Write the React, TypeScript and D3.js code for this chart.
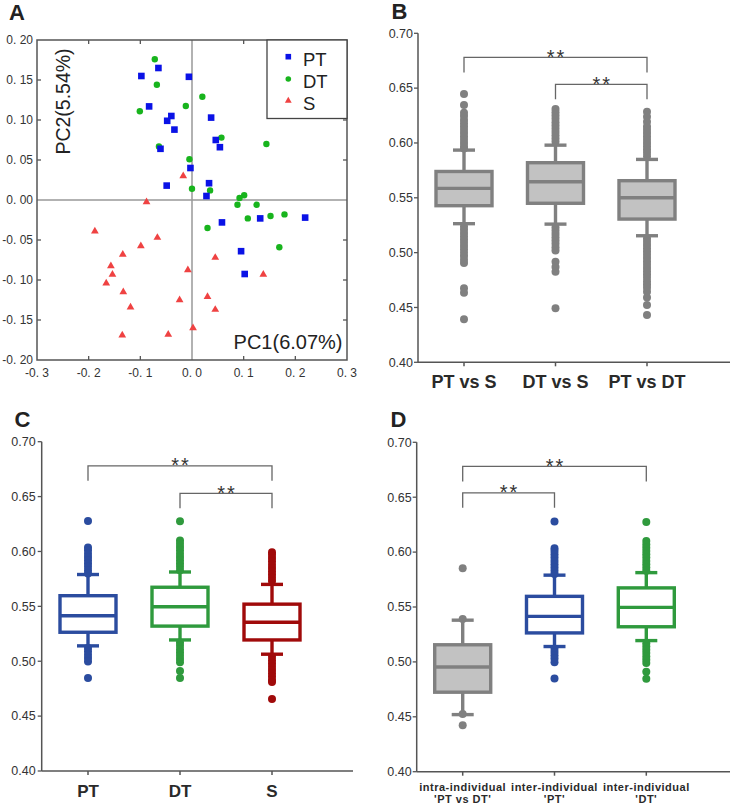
import React from "react";
import * as d3 from "d3";

const F = "'Liberation Sans', Arial, Helvetica, sans-serif";

// ---------- Panel A: PCA ----------
const pcaPT: [number, number][] = [
  [-0.098, 0.155], [-0.065, 0.165], [-0.006, 0.154], [-0.083, 0.117], [-0.040, 0.105],
  [-0.048, 0.099], [-0.034, 0.088], [0.037, 0.103], [0.046, 0.075], [0.054, 0.066],
  [-0.061, 0.064], [-0.003, 0.040], [0.033, 0.021], [-0.049, 0.018], [0.028, 0.005],
  [0.058, -0.028], [0.132, -0.023], [0.219, -0.022], [0.095, -0.064], [0.102, -0.0925],
];
const pcaDT: [number, number][] = [
  [-0.072, 0.176], [-0.068, 0.144], [-0.101, 0.111], [-0.012, 0.1175], [0.020, 0.129],
  [0.057, 0.078], [0.144, 0.070], [-0.064, 0.067], [-0.005, 0.051], [0.0, 0.014],
  [0.035, 0.012], [0.101, 0.006], [0.092, 0.0025], [0.088, -0.006], [0.125, -0.006],
  [0.108, -0.023], [0.152, -0.020], [0.179, -0.018], [0.030, -0.035], [0.169, -0.059],
];
const pcaS: [number, number][] = [
  [-0.017, 0.030], [-0.088, -0.0025], [-0.188, -0.039], [-0.067, -0.047], [-0.099, -0.0575],
  [-0.134, -0.068], [-0.157, -0.0825], [-0.154, -0.093], [-0.166, -0.104], [-0.133, -0.115],
  [-0.119, -0.134], [-0.135, -0.169], [-0.046, -0.168], [-0.024, -0.125], [-0.008, -0.0875],
  [0.002, -0.160], [0.030, -0.121], [0.045, -0.072], [0.045, -0.137], [0.138, -0.093],
];
const pcaXTicks = [-0.3, -0.2, -0.1, 0.0, 0.1, 0.2, 0.3];
const pcaXTickLabels = ["-0. 3", "-0. 2", "-0. 1", "0. 0", "0. 1", "0. 2", "0. 3"];
const pcaYTicks = [0.2, 0.15, 0.1, 0.05, 0.0, -0.05, -0.1, -0.15, -0.2];
const pcaYTickLabels = ["0. 20", "0. 15", "0. 10", "0. 05", "0. 00", "-0. 05", "-0. 10", "-0. 15", "-0. 20"];
const pcaLegend = ["PT", "DT", "S"];
const pcaXTitle = "PC1(6.07%)";
const pcaYTitle = "PC2(5.54%)";

// ---------- Panel B ----------
const bCategories = ["PT vs S", "DT vs S", "PT vs DT"];
const bQ1 = [0.5428, 0.545, 0.5306];
const bMedian = [0.5586, 0.5647, 0.550];
const bQ3 = [0.574, 0.582, 0.5656];
const bLow = [0.5264, 0.526, 0.5154];
const bHigh = [0.5935, 0.598, 0.585];
const bOutliers = [
  [0.6446, 0.6346, 0.6276, 0.6246, 0.621, 0.618, 0.615, 0.612, 0.609, 0.606, 0.603, 0.600, 0.597, 0.595,
   0.524, 0.521, 0.518, 0.515, 0.512, 0.509, 0.506, 0.503, 0.500, 0.497, 0.4935, 0.4905, 0.4675, 0.4635, 0.4392],
  [0.631, 0.628, 0.625, 0.622, 0.619, 0.616, 0.613, 0.610, 0.607, 0.604, 0.601,
   0.523, 0.520, 0.517, 0.514, 0.511, 0.508, 0.505, 0.502, 0.4917, 0.4870, 0.4826, 0.4492],
  [0.6285, 0.624, 0.6194, 0.615, 0.612, 0.609, 0.606, 0.603, 0.600, 0.597, 0.594, 0.591, 0.588,
   0.513, 0.510, 0.507, 0.504, 0.501, 0.498, 0.495, 0.492, 0.489, 0.486, 0.483, 0.480, 0.477, 0.474,
   0.471, 0.468, 0.4643, 0.4592, 0.4522, 0.4431],
];
const bBracketPairs: [number, number][] = [[0, 2], [1, 2]];
const bBracketLevels = [0.678, 0.6535];

// ---------- Panel C ----------
const cCategories = ["PT", "DT", "S"];
const cQ1 = [0.5264, 0.532, 0.5194];
const cMedian = [0.5415, 0.5497, 0.5355];
const cQ3 = [0.5597, 0.5674, 0.552];
const cLow = [0.514, 0.5194, 0.5064];
const cHigh = [0.579, 0.5813, 0.570];
const cOutliers = [
  [0.6278, 0.6035, 0.601, 0.598, 0.595, 0.592, 0.589, 0.586, 0.583, 0.580,
   0.512, 0.509, 0.506, 0.503, 0.4997, 0.4848],
  [0.6275, 0.610, 0.607, 0.604, 0.601, 0.598, 0.595, 0.592, 0.589, 0.586, 0.583,
   0.517, 0.514, 0.511, 0.508, 0.505, 0.502, 0.499, 0.491, 0.4847],
  [0.5993, 0.597, 0.594, 0.591, 0.588, 0.585, 0.582, 0.579, 0.576, 0.573,
   0.504, 0.501, 0.498, 0.495, 0.492, 0.489, 0.486, 0.483, 0.481, 0.4657],
];
const cBracketPairs: [number, number][] = [[0, 2], [1, 2]];
const cBracketLevels = [0.678, 0.653];

// ---------- Panel D ----------
const dCategories = ["intra-individual|'PT vs DT'", "inter-individual|'PT'", "inter-individual|'DT'"];
const dQ1 = [0.4724, cQ1[0], cQ1[1]];
const dMedian = [0.4953, cMedian[0], cMedian[1]];
const dQ3 = [0.5156, cQ3[0], cQ3[1]];
const dLow = [0.452, cLow[0], cLow[1]];
const dHigh = [0.538, cHigh[0], cHigh[1]];
const dOutliers = [[0.5854, 0.539, 0.4525, 0.4423], cOutliers[0], cOutliers[1]];
const dBracketPairs: [number, number][] = [[0, 2], [0, 1]];
const dBracketLevels = [0.678, 0.654];

const yTicksBox = [0.4, 0.45, 0.5, 0.55, 0.6, 0.65, 0.7];

const GRAY = "#808080";
const GRAYFILL = "#c2c2c2";
const BLUE = "#2b4c9f";
const GREEN = "#2f9a3d";
const RED = "#a00a0a";

function PanelA() {
  const x = d3.scaleLinear().domain([-0.3, 0.3]).range([37, 347]);
  const y = d3.scaleLinear().domain([-0.2, 0.2]).range([360, 40]);
  const sq = 6.6;
  const tri = d3.symbol().type(d3.symbolTriangle).size(26);
  const triL = d3.symbol().type(d3.symbolTriangle).size(20);
  const axisC = "#555";
  return (
    <g fontFamily={F}>
      <text x={9} y={20} fontSize={22} fontWeight="bold" fill="#222">A</text>
      <line x1={x(0)} x2={x(0)} y1={y(0.2)} y2={y(-0.2)} stroke="#999" strokeWidth={1.5} />
      <line x1={x(-0.3)} x2={x(0.3)} y1={y(0)} y2={y(0)} stroke="#999" strokeWidth={1.5} />
      {pcaXTicks.map((t, i) => (
        <g key={"xt" + i}>
          {t !== 0 && i > 0 && i < pcaXTicks.length - 1 && (
            <>
              <line x1={x(t)} x2={x(t)} y1={y(-0.2)} y2={y(-0.2) - 4} stroke={axisC} strokeWidth={1.3} />
              <line x1={x(t)} x2={x(t)} y1={y(0.2)} y2={y(0.2) + 4} stroke={axisC} strokeWidth={1.3} />
            </>
          )}
          <text x={x(t)} y={377} textAnchor="middle" fontSize={12} fill="#333">{pcaXTickLabels[i]}</text>
        </g>
      ))}
      {pcaYTicks.map((t, i) => (
        <g key={"yt" + i}>
          {t !== 0 && i > 0 && i < pcaYTicks.length - 1 && (
            <>
              <line x1={x(-0.3)} x2={x(-0.3) + 4} y1={y(t)} y2={y(t)} stroke={axisC} strokeWidth={1.3} />
              <line x1={x(0.3)} x2={x(0.3) - 4} y1={y(t)} y2={y(t)} stroke={axisC} strokeWidth={1.3} />
            </>
          )}
          <text x={33} y={y(t) + 4} textAnchor="end" fontSize={12} fill="#333">{pcaYTickLabels[i]}</text>
        </g>
      ))}
      {pcaS.map((p, i) => (
        <path key={"s" + i} d={tri() as string} transform={`translate(${x(p[0])},${y(p[1])})`} fill="#ef4242" />
      ))}
      {pcaDT.map((p, i) => (
        <circle key={"d" + i} cx={x(p[0])} cy={y(p[1])} r={3.2} fill="#18b41d" />
      ))}
      {pcaPT.map((p, i) => (
        <rect key={"p" + i} x={x(p[0]) - sq / 2} y={y(p[1]) - sq / 2} width={sq} height={sq} fill="#0a12e6" />
      ))}
      <rect x={37} y={40} width={310} height={320} fill="none" stroke={axisC} strokeWidth={1.5} />
      <rect x={267} y={40} width={80} height={78.5} fill="#fff" stroke="#444" strokeWidth={1.3} />
      {pcaLegend.map((name, i) => {
        const ly = [56.7, 79, 100.7][i];
        return (
          <g key={name}>
            {i === 0 && <rect x={288.3 - 2.8} y={ly - 2.8} width={5.6} height={5.6} fill="#0a12e6" />}
            {i === 1 && <circle cx={288.3} cy={ly} r={2.8} fill="#18b41d" />}
            {i === 2 && <path d={triL() as string} transform={`translate(288.3,${ly})`} fill="#ef4242" />}
            <text x={303} y={ly + 9} fontSize={18.5} fill="#222">{name}</text>
          </g>
        );
      })}
      <text transform={`translate(69.5,101.5) rotate(-90)`} textAnchor="middle" fontSize={19.5} fill="#222">{pcaYTitle}</text>
      <text x={342.5} y={348.5} textAnchor="end" fontSize={20} fill="#222">{pcaXTitle}</text>
    </g>
  );
}

type BoxProps = {
  label: string; labelX: number; labelY: number;
  axisX: number; axisRight: number; y07: number; y04: number;
  catRange: [number, number]; categories: string[];
  q1: number[]; med: number[]; q3: number[]; lo: number[]; hi: number[]; outliers: number[][];
  strokes: string[]; fills: string[];
  pairs: [number, number][]; levels: number[];
  catLabelY: number; catFontSize: number; twoLine?: boolean; tickLabelOffset: number;
};

function BoxPanel(p: BoxProps) {
  const y = d3.scaleLinear().domain([0.4, 0.7]).range([p.y04, p.y07]);
  const x = d3.scalePoint<string>().domain(p.categories).range(p.catRange);
  const fmt = d3.format(".2f");
  const bw = 56;
  const cap = 22;
  const axisC = "#555";
  return (
    <g fontFamily={F}>
      <text x={p.labelX} y={p.labelY} fontSize={22} fontWeight="bold" fill="#222">{p.label}</text>
      <line x1={p.axisX} x2={p.axisX} y1={y(0.7)} y2={y(0.4)} stroke={axisC} strokeWidth={1.5} />
      <line x1={p.axisX} x2={p.axisRight} y1={y(0.4)} y2={y(0.4)} stroke={axisC} strokeWidth={1.5} />
      {yTicksBox.map((t) => (
        <g key={t}>
          <line x1={p.axisX - 4} x2={p.axisX} y1={y(t)} y2={y(t)} stroke={axisC} strokeWidth={1.3} />
          <text x={p.axisX - p.tickLabelOffset} y={y(t) + 4.3} textAnchor="end" fontSize={12.5} fill="#333">{fmt(t)}</text>
        </g>
      ))}
      {p.categories.map((c) => {
        const cx = x(c) as number;
        const lines = c.split("|");
        return (
          <g key={c}>
            <line x1={cx} x2={cx} y1={y(0.4)} y2={y(0.4) + 4} stroke={axisC} strokeWidth={1.5} />
            {lines.map((ln, j) => (
              <text key={j} x={cx} y={p.catLabelY + j * 12} textAnchor="middle" fontSize={p.catFontSize}
                fontWeight="bold" fill="#2a2a2a" letterSpacing={p.twoLine ? 0.5 : 0}>{ln}</text>
            ))}
          </g>
        );
      })}
      {p.categories.map((c, i) => {
        const cx = x(c) as number;
        const col = p.strokes[i];
        const sw = 3.4;
        return (
          <g key={"b" + c}>
            <line x1={cx} x2={cx} y1={y(p.hi[i])} y2={y(p.q3[i])} stroke={col} strokeWidth={sw} />
            <line x1={cx} x2={cx} y1={y(p.q1[i])} y2={y(p.lo[i])} stroke={col} strokeWidth={sw} />
            <line x1={cx - cap / 2} x2={cx + cap / 2} y1={y(p.hi[i])} y2={y(p.hi[i])} stroke={col} strokeWidth={sw} />
            <line x1={cx - cap / 2} x2={cx + cap / 2} y1={y(p.lo[i])} y2={y(p.lo[i])} stroke={col} strokeWidth={sw} />
            {p.outliers[i].map((v, k) => (
              <circle key={k} cx={cx} cy={y(v)} r={4} fill={col} />
            ))}
            <rect x={cx - bw / 2} y={y(p.q3[i])} width={bw} height={y(p.q1[i]) - y(p.q3[i])}
              fill={p.fills[i]} stroke={col} strokeWidth={sw} />
            <line x1={cx - bw / 2} x2={cx + bw / 2} y1={y(p.med[i])} y2={y(p.med[i])} stroke={col} strokeWidth={sw} />
          </g>
        );
      })}
      {p.pairs.map(([a, b], i) => {
        const xa = x(p.categories[a]) as number;
        const xb = x(p.categories[b]) as number;
        const ly = y(p.levels[i]);
        return (
          <g key={"br" + i}>
            <path d={`M${xa},${ly + 15}V${ly}H${xb}V${ly + 15}`} fill="none" stroke="#666" strokeWidth={1.3} />
            <text x={(xa + xb) / 2 + 1} y={ly + 6.5} textAnchor="middle" fontSize={20} letterSpacing={2} fill="#333">**</text>
          </g>
        );
      })}
    </g>
  );
}

export default function App() {
  return (
    <svg width={730} height={805} style={{ position: "absolute", left: 0, top: 0, background: "#fff" }}>
      <rect width={730} height={805} fill="#fff" />
      <PanelA />
      <BoxPanel label="B" labelX={391.5} labelY={18.5} axisX={418} axisRight={730} y07={33.3} y04={362.3}
        catRange={[464, 647]} categories={bCategories} q1={bQ1} med={bMedian} q3={bQ3} lo={bLow} hi={bHigh}
        outliers={bOutliers} strokes={[GRAY, GRAY, GRAY]} fills={[GRAYFILL, GRAYFILL, GRAYFILL]}
        pairs={bBracketPairs} levels={bBracketLevels} catLabelY={388.3} catFontSize={18} tickLabelOffset={5} />
      <BoxPanel label="C" labelX={14.5} labelY={426.7} axisX={41.7} axisRight={353} y07={441.7} y04={771}
        catRange={[88, 272]} categories={cCategories} q1={cQ1} med={cMedian} q3={cQ3} lo={cLow} hi={cHigh}
        outliers={cOutliers} strokes={[BLUE, GREEN, RED]} fills={["#fff", "#fff", "#fff"]}
        pairs={cBracketPairs} levels={cBracketLevels} catLabelY={796.7} catFontSize={17} tickLabelOffset={6} />
      <BoxPanel label="D" labelX={390.5} labelY={426.7} axisX={416.7} axisRight={730} y07={442.3} y04={771.7}
        catRange={[462.7, 646.3]} categories={dCategories} q1={dQ1} med={dMedian} q3={dQ3} lo={dLow} hi={dHigh}
        outliers={dOutliers} strokes={[GRAY, BLUE, GREEN]} fills={[GRAYFILL, "#fff", "#fff"]}
        pairs={dBracketPairs} levels={dBracketLevels} catLabelY={790.5} catFontSize={11} twoLine tickLabelOffset={5} />
    </svg>
  );
}
